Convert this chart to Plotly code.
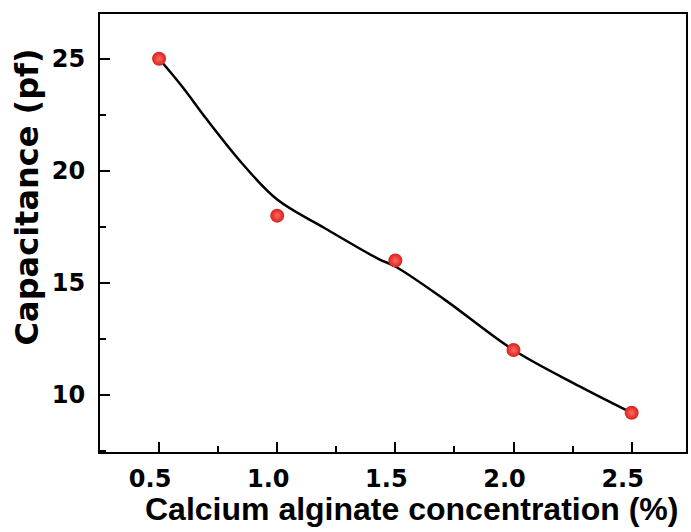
import plotly.graph_objects as go

# measured data points
conc = [0.5, 1.0, 1.5, 2.0, 2.5]
capacitance = [25.0, 18.0, 16.0, 12.0, 9.2]

# smooth fit curve
fit_x = [0.5, 0.6, 0.7, 0.85, 1.0, 1.2, 1.43, 1.5, 1.71, 2.0, 2.28, 2.5]
fit_y = [25.0, 23.73, 22.32, 20.35, 18.72, 17.45, 16.06, 15.73, 14.24, 12.0, 10.38, 9.2]

x_ticks = [0.5, 1.0, 1.5, 2.0, 2.5]
y_ticks = [10, 15, 20, 25]

FONT = "Liberation Sans, Arial, sans-serif"
WIDE = "DejaVu Sans, Liberation Sans, sans-serif"

fig = go.Figure()
fig.add_trace(go.Scatter(
    x=fit_x, y=fit_y, mode="lines",
    line=dict(color="black", width=2.5, shape="spline", smoothing=1.0),
    hoverinfo="skip", showlegend=False))
fig.add_trace(go.Scatter(
    x=conc, y=capacitance, mode="markers",
    marker=dict(size=14, color="#d8201e", line=dict(width=0),
                gradient=dict(type="radial", color="#ff6a60")),
    showlegend=False))

axis_common = dict(
    showline=True, linecolor="black", linewidth=2, mirror=True,
    ticks="inside", ticklen=10, tickwidth=2, tickcolor="black",
    showgrid=False, zeroline=False,
    tickfont=dict(family=WIDE, size=24, color="black", weight="bold"),
)

fig.update_xaxes(range=[0.25, 2.73], tickvals=x_ticks,
                 ticktext=[f"{v:.1f}" for v in x_ticks],
                 minor=dict(ticks="inside", ticklen=6, tickwidth=2, tickcolor="black", dtick=0.25, tick0=0.25),
                 ticklabelshift=-9, ticklabelstandoff=4,
                 **axis_common)
fig.update_yaxes(range=[7.45, 27.0], tickvals=y_ticks,
                 minor=dict(ticks="inside", ticklen=6, tickwidth=2, tickcolor="black", dtick=2.5, tick0=7.5),
                 ticklabelstandoff=8,
                 **axis_common)

fig.add_annotation(text="Calcium alginate concentration (%)", xref="paper", yref="paper",
                   x=0.531, y=-0.13, xanchor="center", yanchor="middle", showarrow=False,
                   font=dict(family=FONT, size=32, color="black", weight="bold"))
fig.add_annotation(text="Capacitance (pf)", xref="paper", yref="paper",
                   x=-0.124, y=0.582, xanchor="center", yanchor="middle", showarrow=False,
                   textangle=-90,
                   font=dict(family=WIDE, size=32, color="black", weight="bold"))

fig.update_layout(width=691, height=532, margin=dict(l=100, r=3, t=14, b=80),
                  plot_bgcolor="white", paper_bgcolor="white")

fig.write_html("out.html", config={"displayModeBar": False},
               post_script="document.body.style.margin='0px';")
